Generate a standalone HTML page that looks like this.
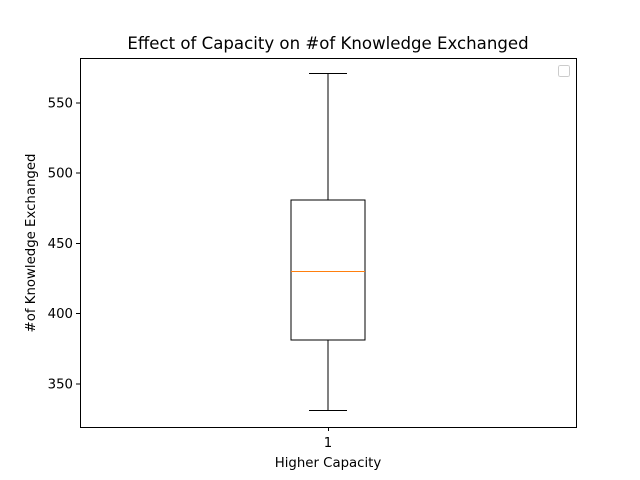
<!DOCTYPE html>
<html><head><meta charset="utf-8"><style>body{margin:0;background:#fff}svg{display:block;font-family:"DejaVu Sans","Liberation Sans",sans-serif}line,rect{shape-rendering:crispEdges}</style></head>
<body>
<svg id="chart" width="640" height="480" viewBox="0 0 640 480">
<rect x="0" y="0" width="640" height="480" fill="#fff"/>
<text x="328" y="49" text-anchor="middle" font-size="16.6">Effect of Capacity on #of Knowledge Exchanged</text>
<g id="yticks"></g>
<g id="boxes"></g>
<rect x="80.5" y="58.5" width="496" height="369" fill="none" stroke="#000" stroke-width="1"/>
<line x1="328.5" y1="427" x2="328.5" y2="431" stroke="#000"/>
<text x="328" y="447" text-anchor="middle" font-size="13.3">1</text>
<text x="328" y="467" text-anchor="middle" font-size="13.3">Higher Capacity</text>
<text transform="translate(35,243) rotate(-90)" text-anchor="middle" font-size="13.3">#of Knowledge Exchanged</text>
<rect x="558.5" y="65.5" width="11" height="11" rx="2" fill="#fff" stroke="#ccc"/>
</svg>
<script>
const categories = ["1"];
const whiskerLow = [331];
const q1 = [381];
const median = [430];
const q3 = [481];
const whiskerHigh = [571];
const yTicks = [350, 400, 450, 500, 550];
const ns = "http://www.w3.org/2000/svg";
const yMin = 319.2, yMax = 582, plotTop = 58, plotBottom = 427;
function y(v){ return plotBottom - (v - yMin) / (yMax - yMin) * (plotBottom - plotTop); }
function x(i){ return 80 + 496 * (i + 0.5) / categories.length; }
function mk(tag, attrs, parent){ const e = document.createElementNS(ns, tag); for (const k in attrs) e.setAttribute(k, attrs[k]); parent.appendChild(e); return e; }
const yt = document.getElementById('yticks');
yTicks.forEach(t => {
  const l = mk('line', {x1: 76, x2: 80, y1: y(t), y2: y(t), stroke: '#000'}, yt);
  
  
  const tx = mk('text', {x: 73, y: y(t) + 4.5, 'text-anchor': 'end', 'font-size': 13.3}, yt);
  tx.textContent = t;
  
  
});
const bx = document.getElementById('boxes');
categories.forEach((c, i) => {
  const cx = x(i), hw = 37, cw = 19;
  const g = mk('g', {}, bx);
  
  
  mk('line', {x1: cx, x2: cx, y1: y(q3[i]), y2: y(whiskerHigh[i]), stroke: '#000'}, g);
  mk('line', {x1: cx, x2: cx, y1: y(q1[i]), y2: y(whiskerLow[i]), stroke: '#000'}, g);
  mk('line', {x1: cx - cw, x2: cx + cw, y1: y(whiskerHigh[i]), y2: y(whiskerHigh[i]), stroke: '#000'}, g);
  mk('line', {x1: cx - cw, x2: cx + cw, y1: y(whiskerLow[i]), y2: y(whiskerLow[i]), stroke: '#000'}, g);
  mk('rect', {x: cx - hw, y: y(q3[i]), width: 2 * hw, height: y(q1[i]) - y(q3[i]), fill: 'none', stroke: '#000'}, g);
  const m = mk('line', {x1: cx - hw, x2: cx + hw, y1: y(median[i]), y2: y(median[i]), stroke: '#ff7f0e'}, g);
  
  
});
</script>
</body></html>
